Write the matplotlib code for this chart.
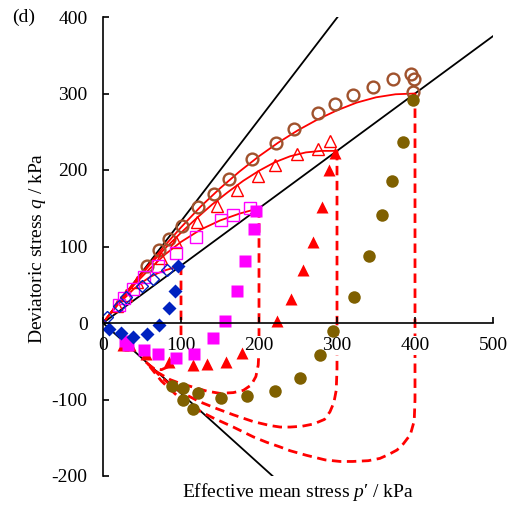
import matplotlib
matplotlib.use("Agg")
import matplotlib.pyplot as plt

plt.rcParams['font.family'] = ['Liberation Serif', 'DejaVu Serif']
plt.rcParams['mathtext.fontset'] = 'custom'
plt.rcParams['mathtext.rm'] = 'Liberation Serif'
plt.rcParams['mathtext.it'] = 'Liberation Serif:italic'
plt.rcParams['font.size'] = 14

# Reference lines through the origin (stress ratio q/p')
M_comp = 1.33
eta_end = 0.75
M_ext = -0.92

# Drained shearing, measured
dr400_p = [57, 72, 84, 101, 122, 142, 161, 191, 222, 245, 275, 297, 321, 346, 372, 395, 399, 398]
dr400_q = [75, 95, 110, 127, 151, 168, 188, 214, 235, 253, 274, 286, 298, 309, 319, 326, 319, 302]
dr300_p = [18, 30, 43, 74, 94, 120, 146, 172, 199, 221, 249, 276, 291]
dr300_q = [22, 37, 54, 85, 106, 132, 153, 174, 192, 207, 221, 228, 238]
dr200_p = [21, 27, 38, 52, 71, 94, 119, 151, 167, 188]
dr200_q = [24, 33, 44, 60, 74, 92, 113, 134, 141, 150]
dr100_p = [5, 20, 30, 50, 64, 82]
dr100_q = [8, 22, 34, 49, 58, 69]

# Undrained unloading, measured
ud400_p = [397, 384, 370, 358, 341, 322, 295, 278, 253, 221, 185, 151, 122, 116, 102, 102, 89]
ud400_q = [291, 237, 186, 141, 87, 34, -11, -42, -72, -89, -96, -98, -92, -113, -100, -85, -82]
ud300_p = [297, 290, 281, 269, 256, 241, 223, 178, 158, 133, 116, 84, 55, 35, 26]
ud300_q = [222, 200, 151, 106, 69, 32, 2, -39, -51, -53, -55, -51, -40, -29, -29]
ud200_p = [196, 194, 182, 172, 156, 141, 117, 94, 71, 53, 32, 28]
ud200_q = [147, 123, 81, 42, 2, -19, -40, -46, -41, -35, -29, -24]
ud100_p = [96, 92, 85, 72, 57, 38, 23, 8]
ud100_q = [74, 42, 20, -3, -14, -18, -13, -8]

# Model: drained paths
md400_p = [0, 20, 40, 60, 80, 100, 125, 150, 175, 200, 225, 250, 275, 300, 325, 350, 375, 400]
md400_q = [0, 27, 53, 78, 102, 125, 152, 176, 198, 218, 236, 252, 266, 278, 288, 295, 299, 300]
md300_p = [0, 20, 40, 60, 80, 100, 120, 140, 160, 180, 200, 220, 240, 260, 280, 300]
md300_q = [0, 27, 52, 76, 98, 118, 137, 155, 171, 186, 199, 210, 218, 223, 225, 225]
md200_p = [0, 20, 40, 60, 80, 100, 125, 150, 175, 200]
md200_q = [0, 26, 50, 71, 90, 106, 122, 134, 143, 150]
md100_p = [0, 10, 20, 30, 40, 50, 60, 70, 80, 90, 100]
md100_q = [0, 13, 25, 35, 45, 53, 60, 65, 69, 72, 75]

# Model: undrained paths
mu400_p = [400, 400, 399, 394, 385, 377, 366, 355, 340, 320, 304, 285, 261, 240, 227, 210, 193, 167, 141, 116, 95, 75, 60]
mu400_q = [300, -100, -128, -146, -158, -166, -172, -177, -180, -181, -181, -179, -173, -167, -162, -156, -149, -136, -124, -111, -95, -76, -57]
mu300_p = [300, 300, 299, 296, 291, 284, 270, 255, 240, 227, 214, 193, 167, 146, 124, 105, 90, 75, 60]
mu300_q = [225, -60, -88, -104, -116, -126, -132, -135, -136, -136, -134, -129, -120, -112, -103, -93, -84, -71, -56]
mu200_p = [200, 200, 199, 196, 190, 180, 167, 150, 133, 116, 99, 86, 69, 55]
mu200_q = [150, -35, -55, -70, -81, -88, -91, -92, -89, -84, -79, -74, -64, -51]
mu100_p = [100, 100, 99, 96, 91, 84, 75, 66, 58]
mu100_q = [75, -20, -33, -43, -51, -57, -61, -60, -54]

brown_open = '#A0522D'
olive = '#7F6000'
red = '#FF0000'
magenta = '#FF00FF'
blue = '#0022C0'

fig = plt.figure(figsize=(5.14, 5.08), dpi=100)
ax = fig.add_axes([103 / 514, 32 / 508, 390 / 514, 459 / 508])
ax.set_xlim(0, 500)
ax.set_ylim(-200, 400)

# straight stress-ratio lines
for slope in (M_comp, eta_end, M_ext):
    ax.plot([0, 600], [0, 600 * slope], color='black', lw=1.3, zorder=1)

# model curves
for px, qy in ((md400_p, md400_q), (md300_p, md300_q), (md200_p, md200_q), (md100_p, md100_q)):
    ax.plot(px, qy, color=red, lw=1.3, zorder=1.5)
for px, qy in ((mu400_p, mu400_q), (mu300_p, mu300_q), (mu200_p, mu200_q), (mu100_p, mu100_q)):
    ax.plot(px, qy, color=red, lw=2.0, dashes=(3.4, 2.0), zorder=1.5)

ms = 8.5
ax.plot(dr400_p, dr400_q, 'o', ms=ms, mfc='none', mec=brown_open, mew=1.7, zorder=3)
ax.plot(dr300_p, dr300_q, '^', ms=ms, mfc='none', mec=red, mew=1.0, zorder=3)
ax.plot(dr200_p, dr200_q, 's', ms=ms, mfc='none', mec=magenta, mew=1.0, zorder=3)
ax.plot(dr100_p, dr100_q, 'D', ms=6.5, mfc='none', mec=blue, mew=1.0, zorder=3)

ax.plot(ud400_p, ud400_q, 'o', ms=9, color=olive, mec='none', zorder=3)
ax.plot(ud300_p, ud300_q, '^', ms=9, color=red, mec='none', zorder=3)
ax.plot(ud200_p, ud200_q, 's', ms=9, color=magenta, mec='none', zorder=3)
ax.plot(ud100_p, ud100_q, 'D', ms=7.5, color=blue, mec='none', zorder=3)

for side in ('top', 'right'):
    ax.spines[side].set_visible(False)
ax.spines['bottom'].set_position(('data', 0))
for side in ('left', 'bottom'):
    ax.spines[side].set_linewidth(1.2)
    ax.spines[side].set_zorder(4)

ax.set_xticks(range(0, 501, 100))
ax.set_yticks(range(-200, 401, 100))
ax.tick_params(axis='both', direction='in', length=4, width=1.2, labelsize=14)
ax.tick_params(axis='x', pad=10)
ax.tick_params(axis='y', pad=11)
for lab in ax.get_xticklabels():
    lab.set_bbox(dict(facecolor='white', edgecolor='none', pad=0.5))
ax.set_yticklabels([str(v) for v in range(-200, 401, 100)])

fig.text(298 / 514, 1 - 492 / 508, "Effective mean stress $p$\u2032 / kPa",
         ha='center', va='center', fontsize=14)
fig.text(38 / 514, 1 - 248 / 508, "Deviatoric stress $q$ / kPa",
         ha='center', va='center', rotation=90, fontsize=14)
fig.text(24 / 514, 1 - 17 / 508, "(d)", ha='center', va='center', fontsize=14)

fig.savefig('out.png', dpi=100)
